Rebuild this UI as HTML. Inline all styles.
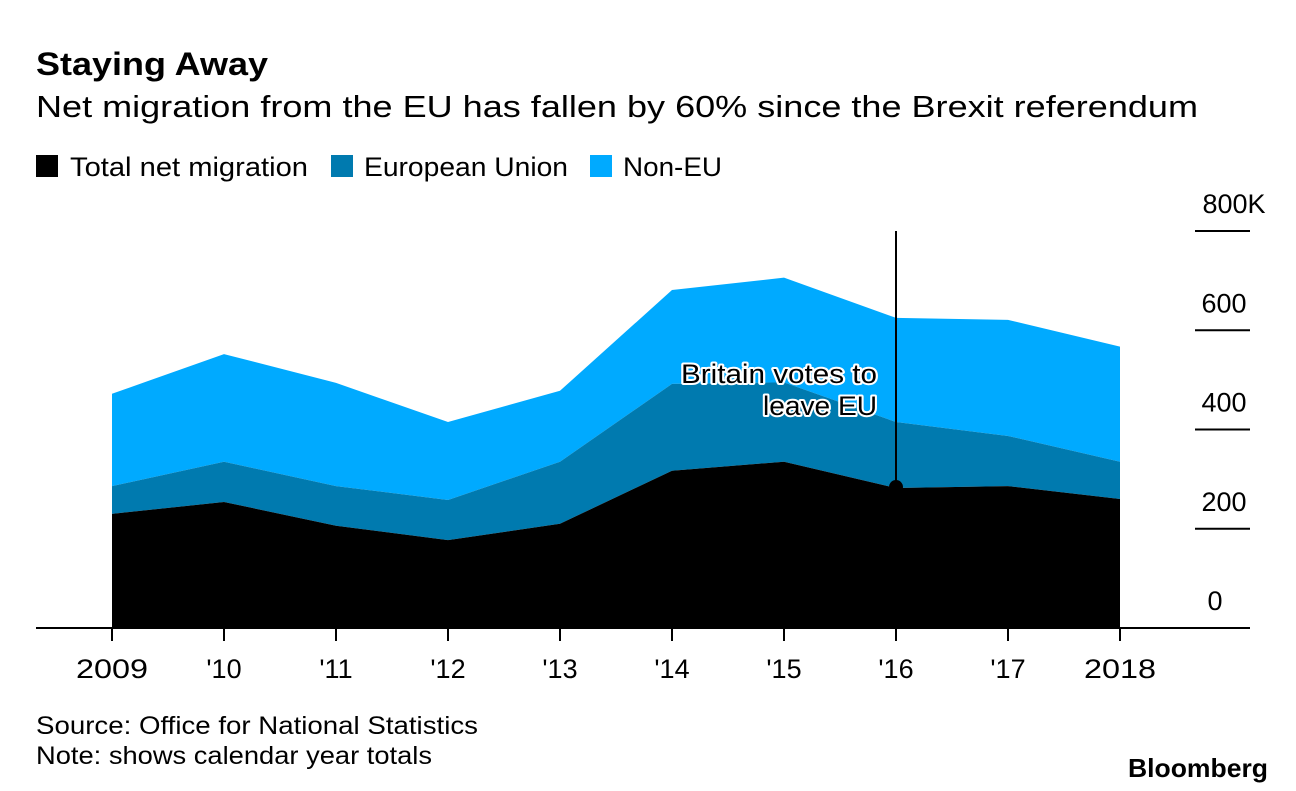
<!DOCTYPE html>
<html><head><meta charset="utf-8"><style>
body{margin:0;background:#fff;width:1296px;height:786px;overflow:hidden;font-family:"Liberation Sans",sans-serif}
text{font-family:"Liberation Sans",sans-serif}
</style></head><body>
<svg width="1296" height="786">
<text x="36" y="75" font-size="32" font-weight="bold" textLength="232" lengthAdjust="spacingAndGlyphs">Staying Away</text>
<text x="36" y="117" font-size="31" textLength="1162" lengthAdjust="spacingAndGlyphs">Net migration from the EU has fallen by 60% since the Brexit referendum</text>
<g font-size="27">
<rect x="36" y="155" width="22" height="22" fill="#000"/>
<text x="70" y="176" textLength="238" lengthAdjust="spacingAndGlyphs">Total net migration</text>
<rect x="331" y="155" width="22" height="22" fill="#007aaf"/>
<text x="364" y="176" textLength="204" lengthAdjust="spacingAndGlyphs">European Union</text>
<rect x="590" y="155" width="22" height="22" fill="#00aaff"/>
<text x="623" y="176" textLength="99" lengthAdjust="spacingAndGlyphs">Non-EU</text>
</g>
<g id="plot"></g>
<text x="36" y="734" font-size="25" textLength="442" lengthAdjust="spacingAndGlyphs">Source: Office for National Statistics</text>
<text x="36" y="764" font-size="25" textLength="396" lengthAdjust="spacingAndGlyphs">Note: shows calendar year totals</text>
<text x="1128" y="777" font-size="26" font-weight="bold" textLength="140" lengthAdjust="spacingAndGlyphs">Bloomberg</text>
</svg>
<script>
const years=["2009","'10","'11","'12","'13","'14","'15","'16","'17","2018"];
const totalLayer=[230,254,206,177,210,317,335,282,286,260];
const euLayer=[56,81,80,81,125,175,160,133,101,75];
const nonEuLayer=[186,217,208,157,143,189,211,210,234,232];
const yTicks=[0,200,400,600,800];
const yTickLabels=["0","200","400","600","800K"];
const voteIndex=7;
const NS="http://www.w3.org/2000/svg";
const g=document.getElementById('plot');
const x=i=>112+i*112;
const y=v=>628-v*(397/800);
function mk(t,a){const e=document.createElementNS(NS,t);for(const k in a)e.setAttribute(k,a[k]);g.appendChild(e);return e;}
const c1=totalLayer, c2=c1.map((v,i)=>v+euLayer[i]), c3=c2.map((v,i)=>v+nonEuLayer[i]);
function area(top,bot,fill,name){
 let d="M"+top.map((v,i)=>x(i)+","+y(v)).join("L");
 for(let i=bot.length-1;i>=0;i--)d+="L"+x(i)+","+y(bot[i]);
 const p=mk('path',{d:d+"Z",fill:fill});
 
 
}
const zero=c1.map(()=>0);
area(c3,c2,"#00aaff","area-non-eu");
area(c2,c1,"#007aaf","area-eu");
area(c1,zero,"#000","area-total");
yTicks.forEach((v,i)=>{
 if(v>0){const l=mk('line',{x1:1195,x2:1250,y1:y(v),y2:y(v),stroke:"#000","stroke-width":2});
 
 }
 const lab=yTickLabels[i];
 const t=mk('text',{x:lab.length>3?1234:(lab.length>1?1224:1215),y:y(v)-18,"font-size":27,"text-anchor":"middle"});t.textContent=lab;
 
 
});
const base=mk('line',{x1:36,x2:1250,y1:628,y2:628,stroke:"#000","stroke-width":2});


years.forEach((yr,i)=>{
 const tk=mk('line',{x1:x(i),x2:x(i),y1:628,y2:641,stroke:"#000","stroke-width":2});
 
 
 const t=mk('text',{x:x(i),y:678,"font-size":27,"text-anchor":"middle"});t.textContent=yr;
 if(yr.length===4){t.setAttribute('textLength',72);t.setAttribute('lengthAdjust','spacingAndGlyphs');}
 
 
});
const vl=mk('line',{x1:x(voteIndex),x2:x(voteIndex),y1:231,y2:y(c1[voteIndex]),stroke:"#000","stroke-width":2});


const dot=mk('circle',{cx:x(voteIndex),cy:y(c1[voteIndex])-1,r:7,fill:"#000"});


[["Britain votes to",196],["leave EU",114]].forEach((s,i)=>{
 const t=mk('text',{x:877-s[1],y:383+i*32,"font-size":27,fill:"#000",stroke:"#fff","stroke-width":4,"paint-order":"stroke","stroke-linejoin":"round",textLength:s[1],lengthAdjust:"spacingAndGlyphs"});
 t.textContent=s[0];
 
 
});
</script>
</body></html>
